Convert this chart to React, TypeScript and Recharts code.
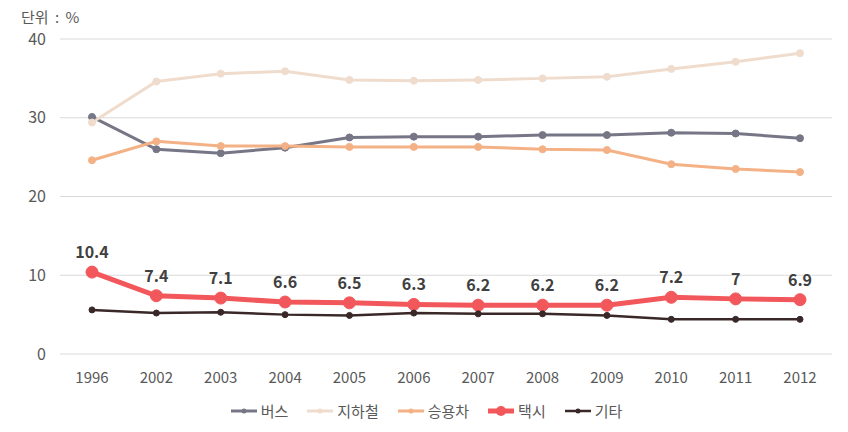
import { CartesianGrid, LabelList, Legend, Line, LineChart, XAxis, YAxis } from "recharts";

const years = ["1996", "2002", "2003", "2004", "2005", "2006", "2007", "2008", "2009", "2010", "2011", "2012"];
const bus = [30.1, 26.0, 25.5, 26.2, 27.5, 27.6, 27.6, 27.8, 27.8, 28.1, 28.0, 27.4];
const subway = [29.4, 34.6, 35.6, 35.9, 34.8, 34.7, 34.8, 35.0, 35.2, 36.2, 37.1, 38.2];
const car = [24.6, 27.0, 26.4, 26.4, 26.3, 26.3, 26.3, 26.0, 25.9, 24.1, 23.5, 23.1];
const taxi = [10.4, 7.4, 7.1, 6.6, 6.5, 6.3, 6.2, 6.2, 6.2, 7.2, 7, 6.9];
const other = [5.6, 5.2, 5.3, 5.0, 4.9, 5.2, 5.1, 5.1, 4.9, 4.4, 4.4, 4.4];
const yTicks = [0, 10, 20, 30, 40];

const data = years.map((year, i) => ({
  year,
  bus: bus[i],
  subway: subway[i],
  car: car[i],
  taxi: taxi[i],
  other: other[i],
}));

const FONT = "'Noto Sans CJK KR', 'Noto Sans', sans-serif";

const series = [
  { key: "bus", name: "버스", color: "#777686", width: 3, r: 3.5 },
  { key: "subway", name: "지하철", color: "#f0dccd", width: 3, r: 3.5 },
  { key: "car", name: "승용차", color: "#f3b185", width: 3, r: 3.5 },
  { key: "taxi", name: "택시", color: "#f2585b", width: 5, r: 6 },
  { key: "other", name: "기타", color: "#3a2828", width: 2.5, r: 3 },
];

function LegendContent() {
  return (
    <div style={{ display: "flex", justifyContent: "center", gap: 18, fontFamily: FONT, fontSize: 15, color: "#595959" }}>
      {series.map((s) => (
        <div key={s.key} style={{ display: "flex", alignItems: "center" }}>
          <svg width={28} height={14} style={{ marginRight: 3 }}>
            <line x1={1} y1={7} x2={27} y2={7} stroke={s.color} strokeWidth={s.width} />
            <circle cx={14} cy={7} r={s.key === "taxi" ? 5 : 2.5} fill={s.color} />
          </svg>
          <span>{s.name}</span>
        </div>
      ))}
    </div>
  );
}

export default function App() {
  return (
    <div style={{ position: "absolute", left: 0, top: 0, width: 848, height: 432, background: "#fff" }}>
      <div style={{ position: "absolute", left: 21, top: 6, fontFamily: FONT, fontSize: 15, color: "#595959", wordSpacing: 3 }}>
        단위 : %
      </div>
      <LineChart width={848} height={432} data={data} margin={{ top: 39, right: 16, left: 20, bottom: 17 }}>
        <CartesianGrid vertical={false} stroke="#d9d9d9" />
        <XAxis
          dataKey="year"
          axisLine={false}
          tickLine={false}
          tickMargin={12}
          height={40}
          padding={{ left: 32, right: 32 }}
          tick={{ fontFamily: FONT, fontSize: 15, fill: "#595959" }}
        />
        <YAxis
          domain={[0, 40]}
          ticks={yTicks}
          axisLine={false}
          tickLine={false}
          tickMargin={8}
          width={40}
          tick={{ fontFamily: FONT, fontSize: 16, fill: "#595959" }}
        />
        <Legend verticalAlign="bottom" wrapperStyle={{ bottom: 11 }} content={<LegendContent />} />
        {series.map((s) => (
          <Line
            key={s.key}
            dataKey={s.key}
            name={s.name}
            stroke={s.color}
            strokeWidth={s.width}
            dot={{ r: s.r, fill: s.color, stroke: s.color, strokeWidth: 1 }}
            isAnimationActive={false}
          >
            {s.key === "taxi" && (
              <LabelList
                dataKey="taxi"
                position="top"
                offset={14}
                style={{ fontFamily: FONT, fontSize: 16, fontWeight: 700, fill: "#404040" }}
              />
            )}
          </Line>
        ))}
      </LineChart>
    </div>
  );
}
